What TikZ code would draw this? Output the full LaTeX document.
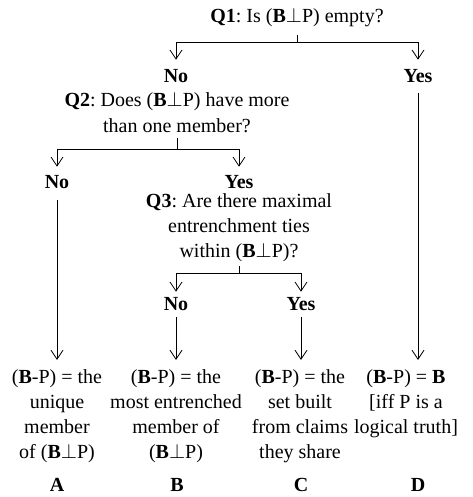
\documentclass[tikz,border=0pt]{standalone}
\usepackage{fontspec}
\setmainfont{Liberation Serif}
\usetikzlibrary{arrows.meta}
\frenchspacing
\begin{document}
\begin{tikzpicture}[x=1pt,y=-1pt,
  every node/.style={inner sep=0pt, font=\fontsize{20}{25}\selectfont},
  txt/.style={align=center, anchor=base},
  lbl/.style={font=\fontsize{20}{25}\selectfont\bfseries, anchor=base},
  link/.style={line width=0.8pt},
  arr/.style={link, -{Straight Barb[length=9pt,width=12pt,line width=0.8pt]}}]
\useasboundingbox (0,0) rectangle (472,497);
% questions (anchor base = baseline of last line)
\node[txt] (q1) at (297,23) {\textbf{Q1}: Is (\textbf{B}$\perp$P) empty?};
\node[lbl] (no1) at (176,83) {No};
\node[lbl] (yes1) at (418,83) {Yes};
\node[txt] (q2) at (177,132) {\textbf{Q2}: Does (\textbf{B}$\perp$P) have more\\than one member?};
\node[lbl] (no2) at (57,188) {No};
\node[lbl] (yes2) at (239,188) {Yes};
\node[txt] (q3) at (239,257) {\textbf{Q3}: Are there maximal\\entrenchment ties\\within (\textbf{B}$\perp$P)?};
\node[lbl] (no3) at (176,310) {No};
\node[lbl] (yes3) at (301,310) {Yes};
% results
\node[txt] (ra) at (57,458) {(\textbf{B}-P) = the\\unique\\member\\of (\textbf{B}$\perp$P)};
\node[txt] (rb) at (176,458) {(\textbf{B}-P) = the\\most entrenched\\member of\\(\textbf{B}$\perp$P)};
\node[txt] (rc) at (300,458) {(\textbf{B}-P) = the\\set built\\from claims\\they share};
\node[txt] (rd) at (406,433) {(\textbf{B}-P) = \textbf{B}\\{[}iff P is a\\logical truth{]}};
\node[lbl] (la) at (57,491) {A};
\node[lbl] (lb) at (177,491) {B};
\node[lbl] (lc) at (301,491) {C};
\node[lbl] (ld) at (418,491) {D};
% junctions
\coordinate (j1) at (297,42);
\coordinate (j2) at (177,149);
\coordinate (j3) at (239,273);
% connectors
\draw[link, shorten <=7pt] (q1.south) -- (j1);
\draw[arr, shorten >=10pt] (j1) -| (no1);
\draw[arr, shorten >=10pt] (j1) -| (yes1);
\draw[link, shorten <=6pt] (q2.south) -- (j2);
\draw[arr, shorten >=8pt] (j2) -| (no2);
\draw[arr, shorten >=8pt] (j2) -| (yes2);
\draw[link, shorten <=5pt] (q3.south) -- (j3);
\draw[arr, shorten >=5pt] (j3) -| (no3);
\draw[arr, shorten >=5pt] (j3) -| (yes3);
\draw[arr, shorten <=10pt, shorten >=9pt] (yes1.south) -- (yes1 |- rd.north);
\draw[arr, shorten <=12pt, shorten >=9pt] (no2.south) -- (no2 |- ra.north);
\draw[arr, shorten <=7pt, shorten >=9pt] (no3.south) -- (no3 |- rb.north);
\draw[arr, shorten <=7pt, shorten >=9pt] (yes3.south) -- (yes3 |- rc.north);
\end{tikzpicture}
\end{document}
